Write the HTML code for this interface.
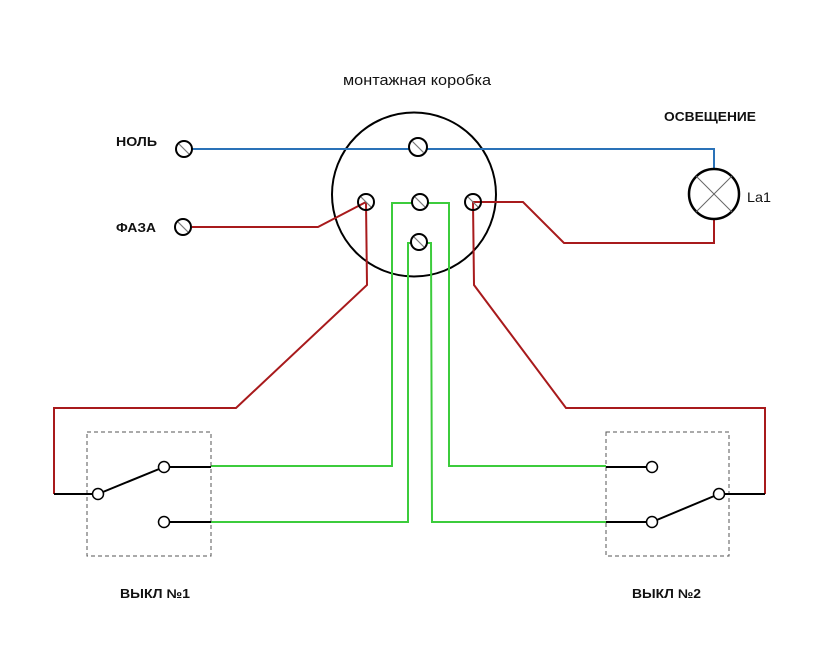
<!DOCTYPE html>
<html><head><meta charset="utf-8"><style>
html,body{margin:0;padding:0;background:#fff;}
svg{display:block;}
text{font-family:"Liberation Sans",Arial,sans-serif;fill:#111;}
.b{font-weight:bold;font-size:12.5px;}
</style></head><body>
<svg width="830" height="656" viewBox="0 0 830 656" xmlns="http://www.w3.org/2000/svg">
<rect width="830" height="656" fill="#fff"/>
<!-- labels -->
<text x="343" y="85" font-size="15" textLength="148" lengthAdjust="spacingAndGlyphs">монтажная коробка</text>
<text class="b" x="116" y="146" textLength="41" lengthAdjust="spacingAndGlyphs">НОЛЬ</text>
<text class="b" x="116" y="232" textLength="40" lengthAdjust="spacingAndGlyphs">ФАЗА</text>
<text class="b" x="664" y="121" textLength="92" lengthAdjust="spacingAndGlyphs">ОСВЕЩЕНИЕ</text>
<text x="747" y="202" font-size="14" textLength="24" lengthAdjust="spacingAndGlyphs">La1</text>
<text class="b" x="120" y="598" textLength="70" lengthAdjust="spacingAndGlyphs">ВЫКЛ №1</text>
<text class="b" x="632" y="598" textLength="69" lengthAdjust="spacingAndGlyphs">ВЫКЛ №2</text>

<!-- junction box -->
<circle cx="414" cy="194.5" r="82" fill="none" stroke="#000" stroke-width="2"/>

<!-- blue neutral -->
<polyline points="192,149 714,149 714,169" fill="none" stroke="#2a72b8" stroke-width="2"/>

<!-- red wires -->
<g fill="none" stroke="#a81a1c" stroke-width="2" stroke-linejoin="miter">
<polyline points="192,227 318,227 366,202"/>
<polyline points="366,202 367,285 236,408 54,408 54,494"/>
<polyline points="473,202 523,202 564,243 714,243 714,219"/>
<polyline points="473,202 474,285 566,408 765,408 765,494"/>
</g>

<!-- green wires -->
<g fill="none" stroke="#3ccc3c" stroke-width="2">
<polyline points="211,466 392,466 392,203 449,203 449,466 606,466"/>
<polyline points="211,522 408,522 408,243 431,243 432,522 606,522"/>
</g>

<!-- switches dashed boxes -->
<g fill="none" stroke="#555" stroke-width="1" stroke-dasharray="4,3">
<rect x="87" y="432" width="124" height="124"/>
<rect x="606" y="432" width="123" height="124"/>
</g>

<!-- switch black wiring -->
<g stroke="#000" stroke-width="2" fill="none">
<line x1="54" y1="494" x2="93" y2="494"/>
<line x1="169" y1="467" x2="211" y2="467"/>
<line x1="169" y1="522" x2="211" y2="522"/>
<line x1="98" y1="494" x2="164" y2="467"/>
<line x1="606" y1="467" x2="647" y2="467"/>
<line x1="606" y1="522" x2="647" y2="522"/>
<line x1="652" y1="522" x2="719" y2="494"/>
<line x1="724" y1="494" x2="765" y2="494"/>
</g>
<g fill="#fff" stroke="#000" stroke-width="1.5">
<circle cx="98" cy="494" r="5.5"/>
<circle cx="164" cy="467" r="5.5"/>
<circle cx="164" cy="522" r="5.5"/>
<circle cx="652" cy="467" r="5.5"/>
<circle cx="652" cy="522" r="5.5"/>
<circle cx="719" cy="494" r="5.5"/>
</g>

<!-- lamp -->
<circle cx="714" cy="194" r="25" fill="#fff" stroke="#000" stroke-width="2.5"/>
<g stroke="#666" stroke-width="1">
<line x1="696" y1="176" x2="732" y2="212"/>
<line x1="732" y1="176" x2="696" y2="212"/>
</g>

<!-- terminals -->
<g>
<g transform="translate(184,149)"><circle r="8" fill="#fff" stroke="#000" stroke-width="2"/><line x1="-5" y1="-5" x2="5" y2="5" stroke="#777" stroke-width="1.2"/></g>
<g transform="translate(183,227)"><circle r="8" fill="#fff" stroke="#000" stroke-width="2"/><line x1="-5" y1="-5" x2="5" y2="5" stroke="#777" stroke-width="1.2"/></g>
<g transform="translate(418,147)"><circle r="9" fill="#fff" stroke="#000" stroke-width="2"/><line x1="-5.5" y1="-5.5" x2="5.5" y2="5.5" stroke="#777" stroke-width="1.2"/></g>
<g transform="translate(420,202)"><circle r="8" fill="#fff" stroke="#000" stroke-width="2"/><line x1="-5" y1="-5" x2="5" y2="5" stroke="#777" stroke-width="1.2"/></g>
<g transform="translate(419,242)"><circle r="8" fill="#fff" stroke="#000" stroke-width="2"/><line x1="-5" y1="-5" x2="5" y2="5" stroke="#777" stroke-width="1.2"/></g>
<g transform="translate(366,202)"><circle r="8" fill="none" stroke="#000" stroke-width="2"/><line x1="-5" y1="-5" x2="5" y2="5" stroke="#777" stroke-width="1.2"/></g>
<g transform="translate(473,202)"><circle r="8" fill="none" stroke="#000" stroke-width="2"/><line x1="-5" y1="-5" x2="5" y2="5" stroke="#777" stroke-width="1.2"/></g>
</g>
</svg>
</body></html>
